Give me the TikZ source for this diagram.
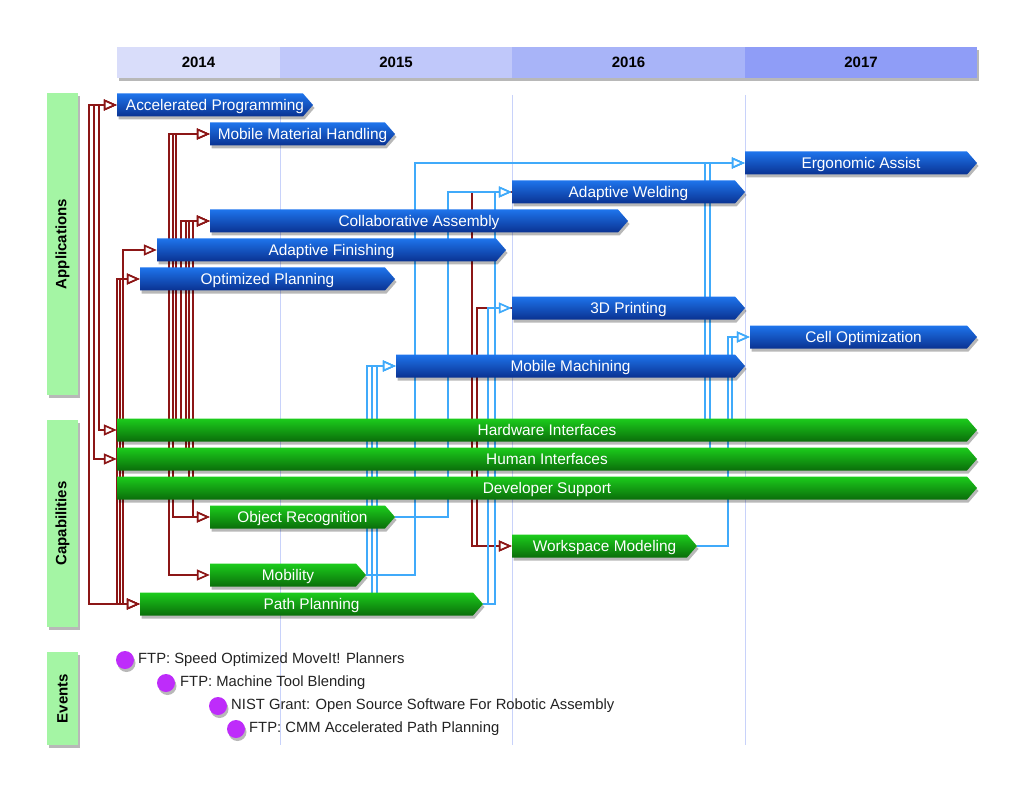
\documentclass[tikz,border=0pt]{standalone}
\usepackage{fontspec}
\setmainfont{Liberation Sans}
\usetikzlibrary{arrows.meta,shadows}
\definecolor{linkred}{RGB}{140,22,22}
\definecolor{linkblue}{RGB}{64,170,250}
\definecolor{guide}{RGB}{200,210,250}
\definecolor{yfourteen}{RGB}{217,221,250}
\definecolor{yfifteen}{RGB}{192,200,250}
\definecolor{ysixteen}{RGB}{168,180,248}
\definecolor{yseventeen}{RGB}{143,157,247}
\definecolor{lblgreen}{RGB}{164,245,164}
\definecolor{bluetop}{RGB}{30,116,236}
\definecolor{bluebot}{RGB}{10,50,145}
\definecolor{greentop}{RGB}{28,204,28}
\definecolor{greenbot}{RGB}{10,110,10}
\definecolor{evpurple}{RGB}{190,44,250}
\definecolor{evtextc}{RGB}{34,34,34}

\pgfdeclarelayer{links}
\pgfsetlayers{links,main}

\tikzset{
  softshadow/.style={drop shadow={shadow xshift=1.5pt,shadow yshift=-3pt,opacity=0.28,fill=black}},
  bluebar/.style={top color=bluetop, bottom color=bluebot, softshadow},
  greenbar/.style={top color=greentop, bottom color=greenbot, softshadow},
  bartext/.style={text=white, font=\fontsize{15.4}{18}\selectfont, inner sep=0pt, minimum height=23pt, text height=14pt, text depth=2.8pt, shape=rectangle},
  yearbox/.style={font=\bfseries\fontsize{15}{18}\selectfont, minimum height=31pt, inner sep=0pt, softshadow},
  lblbox/.style={fill=lblgreen, font=\bfseries\fontsize{15}{18}\selectfont, minimum height=31pt, inner sep=0pt, rotate=90, softshadow},
  redlink/.style={draw=linkred, line width=1.7pt},
  bluelink/.style={draw=linkblue, line width=1.7pt},
  guideline/.style={draw=guide, line width=1pt},
  evdot/.style={circle, fill=evpurple, minimum size=18pt, inner sep=0pt, softshadow},
  evtext/.style={text=evtextc, font=\fontsize{14.8}{17}\selectfont, inner sep=0pt, anchor=west},
  >={Triangle[length=13pt,width=11pt,fill=white]}
}

% name, x0, x1, y, style, text
\newcommand\tlbar[6]{%
  \path[#5] (#2,#4-11.5) -- (#3-10,#4-11.5) -- (#3,#4) -- (#3-10,#4+11.5) -- (#2,#4+11.5) -- cycle;
  \node[bartext, minimum width={#3-#2}] (#1) at ({(#2+#3)/2},#4) {#6};
}

\begin{document}
\begin{tikzpicture}[x=1pt,y=-1pt]
\useasboundingbox (0,0) rectangle (1024,791);

% header
\node[yearbox, fill=yfourteen, minimum width=163pt] (h14) at (198.5,62.5) {2014};
\node[yearbox, fill=yfifteen, minimum width=232pt] (h15) at (396,62.5) {2015};
\node[yearbox, fill=ysixteen, minimum width=233pt] (h16) at (628.5,62.5) {2016};
\node[yearbox, fill=yseventeen, minimum width=232pt] (h17) at (861,62.5) {2017};

% section labels
\node[lblbox, minimum width=302pt] (lapp) at (62.5,244) {Applications};
\node[lblbox, minimum width=207pt] (lcap) at (62.5,523.5) {Capabilities};
\node[lblbox, minimum width=93pt] (lev) at (62.5,698.5) {Events};

% bars
\tlbar{ap}{117}{313}{105}{bluebar}{Accelerated Programming}
\tlbar{mmh}{210}{395}{134}{bluebar}{Mobile Material Handling}
\tlbar{ea}{745}{977}{163}{bluebar}{Ergonomic Assist}
\tlbar{aw}{512}{745}{192}{bluebar}{Adaptive Welding}
\tlbar{ca}{210}{628}{221}{bluebar}{Collaborative Assembly}
\tlbar{af}{157}{506}{250}{bluebar}{Adaptive Finishing}
\tlbar{op}{140}{395}{279}{bluebar}{Optimized Planning}
\tlbar{tdp}{512}{745}{308}{bluebar}{3D Printing}
\tlbar{co}{750}{977}{337}{bluebar}{Cell Optimization}
\tlbar{mm}{396}{745}{366}{bluebar}{Mobile Machining}
\tlbar{hw}{117}{977}{430}{greenbar}{Hardware Interfaces}
\tlbar{hu}{117}{977}{459}{greenbar}{Human Interfaces}
\tlbar{ds}{117}{977}{488}{greenbar}{Developer Support}
\tlbar{or}{210}{395}{517}{greenbar}{Object Recognition}
\tlbar{wm}{512}{697}{546}{greenbar}{Workspace Modeling}
\tlbar{mob}{210}{366}{575}{greenbar}{Mobility}
\tlbar{pp}{140}{483}{604}{greenbar}{Path Planning}

\begin{pgfonlayer}{links}
% guide lines
\draw[guideline] (280,95) -- (280,745);
\draw[guideline] (512,95) -- (512,745);
\draw[guideline] (745,95) -- (745,745);

% red connectors
\draw[redlink,<->] (ap.west) -- ++(-28,0) |- (pp.west);
\draw[redlink,<->] (ap.west) -- ++(-23,0) |- (hu.west);
\draw[redlink,<->] (ap.west) -- ++(-18,0) |- (hw.west);
\draw[redlink,<->] (op.west) -- ++(-23,0) |- (pp.west);
\draw[redlink,<->] (op.west) -- ++(-20,0) |- (pp.west);
\draw[redlink,<->] (af.west) -- ++(-34,0) |- (pp.west);
\draw[redlink,<->] (mmh.west) -- ++(-41,0) |- (mob.west);
\draw[redlink,<->] (mmh.west) -- ++(-37,0) |- (or.west);
\draw[redlink,<-] (mmh.west) -- ++(-34,0) |- (hw.center);
\draw[redlink,<-] (ca.west) -- ++(-29,0) |- (hw.center);
\draw[redlink,<-] (ca.west) -- ++(-24,0) |- (hu.center);
\draw[redlink,<-] (ca.west) -- ++(-21,0) |- (ds.center);
\draw[redlink,<->] (ca.west) -- ++(-17,0) |- (or.west);
\draw[redlink,->] (aw.west) -- ++(-40,0) |- (wm.west);
\draw[redlink,->] (tdp.west) -- ++(-35,0) |- (wm.west);

% blue connectors
\draw[bluelink,->] (mob.east) -- ++(49,0) |- (ea.west);
\draw[bluelink,->] (or.east) -- ++(53,0) |- (aw.west);
\draw[bluelink,->] (pp.east) -- ++(12,0) |- (aw.west);
\draw[bluelink,->] (pp.east) -- ++(5,0) |- (tdp.west);
\draw[bluelink,<-] (mm.west) -- ++(-29,0) |- (mob.east);
\draw[bluelink,<-] (mm.west) -- ++(-24,0) |- (pp.center);
\draw[bluelink,<-] (mm.west) -- ++(-19,0) |- (pp.center);
\draw[bluelink,<-] (ea.west) -- ++(-40,0) |- (hw.center);
\draw[bluelink,<-] (ea.west) -- ++(-35,0) |- (hu.center);
\draw[bluelink,->] (wm.east) -- ++(31,0) |- (co.west);
\draw[bluelink,<-] (co.west) -- ++(-18,0) |- (hw.center);
\end{pgfonlayer}

% events
\node[evdot] (e1) at (125,660) {};
\node[evtext] (t1) at (138,660) {FTP: Speed Optimized MoveIt! Planners};
\node[evdot] (e2) at (166,683) {};
\node[evtext] (t2) at (180,683) {FTP: Machine Tool Blending};
\node[evdot] (e3) at (218,706) {};
\node[evtext] (t3) at (231,706) {NIST Grant: Open Source Software For Robotic Assembly};
\node[evdot] (e4) at (236,729) {};
\node[evtext] (t4) at (249,729) {FTP: CMM Accelerated Path Planning};
\end{tikzpicture}
\end{document}
